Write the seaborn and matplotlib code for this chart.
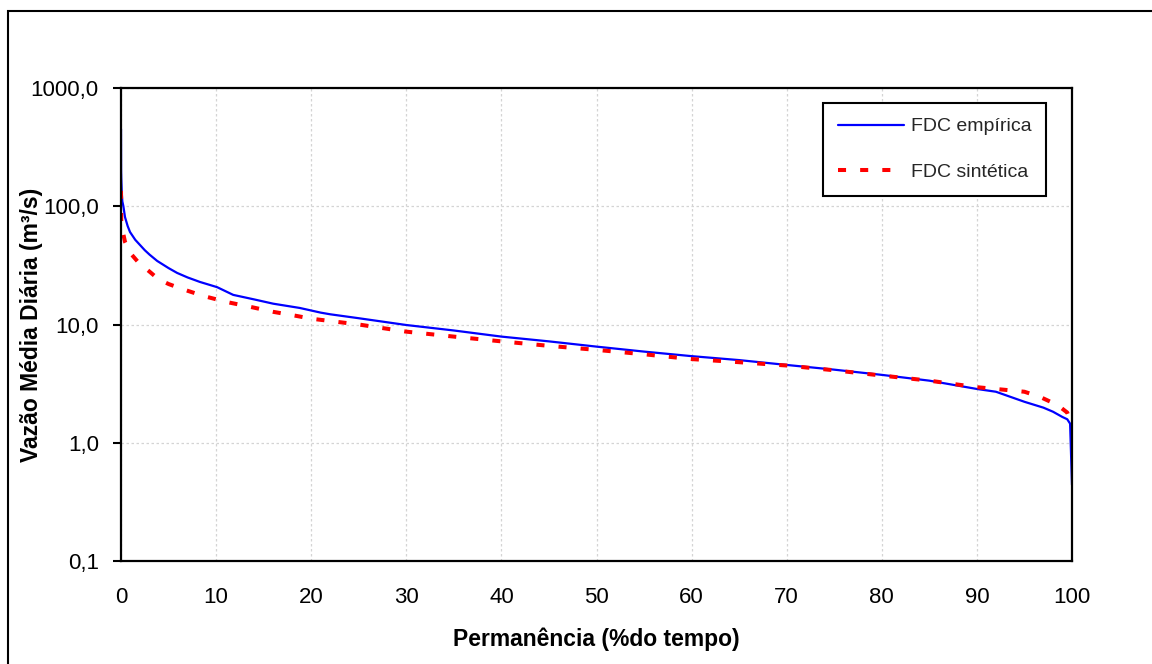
import matplotlib
matplotlib.use("Agg")
import matplotlib.pyplot as plt
from matplotlib.patches import Rectangle
import seaborn as sns
import pandas as pd

# ---- data ----
emp_x = [0, 0.01, 0.03, 0.08, 0.14, 0.25, 0.42, 0.7, 0.95, 1.5, 2.0, 2.5, 3.0, 3.8, 5.0,
         5.9, 7.0, 8.3, 10.1, 11.8, 14, 16, 18.8, 21, 22, 25, 30, 35, 40, 45, 50,
         55, 60, 65, 70, 75, 80, 85, 90, 92, 95, 97, 98, 99, 99.5, 99.8, 100]
emp_y = [450, 200, 170, 130, 110, 100, 81, 68, 60.5, 52, 47, 42.5, 39, 34.5, 30,
         27.3, 25, 22.9, 20.7, 17.8, 16.3, 15.0, 13.8, 12.6, 12.2, 11.3, 9.9, 8.9, 7.9, 7.2, 6.5,
         5.9, 5.4, 5.0, 4.55, 4.15, 3.75, 3.35, 2.85, 2.7, 2.22, 1.98, 1.83, 1.65, 1.58, 1.45, 0.44]

syn_x = [0, 0.03, 0.42, 1.0, 1.9, 3.0, 3.9, 5.0, 6.4, 8.7, 11.1, 13.6, 16, 18.5, 20,
         25, 30, 35, 40, 45, 50, 55, 60, 65, 70, 75, 80, 85, 90, 93, 95, 96.6,
         98.5, 99.5, 100]
syn_y = [135, 70, 50, 40, 33, 28, 24.3, 22, 20, 17.4, 15.5, 14.1, 12.8, 11.8, 11.2,
         10.0, 8.7, 7.9, 7.2, 6.6, 6.1, 5.6, 5.1, 4.8, 4.5, 4.1, 3.7, 3.35, 2.95, 2.8, 2.7, 2.45,
         2.08, 1.8, 1.41]

x_ticks = [0, 10, 20, 30, 40, 50, 60, 70, 80, 90, 100]
y_ticks = [0.1, 1, 10, 100, 1000]
y_tick_labels = ["0,1", "1,0", "10,0", "100,0", "1000,0"]
series_names = ["FDC empírica", "FDC sintética"]

sns.set_theme(style="white")
plt.rcParams["font.family"] = ["Liberation Sans", "DejaVu Sans"]

fig = plt.figure(figsize=(11.52, 6.64), dpi=100)
ax = fig.add_axes([121 / 1152, 1 - 561 / 664, 951 / 1152, 473 / 664])

df_emp = pd.DataFrame({"x": emp_x, "y": emp_y})
df_syn = pd.DataFrame({"x": syn_x, "y": syn_y})

sns.lineplot(data=df_emp, x="x", y="y", ax=ax, color="#0000FF", linewidth=1.6,
             estimator=None, sort=False, label=series_names[0])
sns.lineplot(data=df_syn, x="x", y="y", ax=ax, color="#FF0000", linewidth=2.9,
             estimator=None, sort=False, label=series_names[1])
ax.lines[1].set_dashes((2, 3.5))
ax.lines[1].set_dash_capstyle("butt")

ax.set_yscale("log")
ax.set_xlim(0, 100)
ax.set_ylim(0.1, 1000)
ax.set_xticks(x_ticks)
ax.set_xticklabels([str(v) for v in x_ticks])
ax.set_yticks(y_ticks)
ax.set_yticklabels(y_tick_labels)
ax.minorticks_off()

ax.grid(True, which="major", color="#d4d4d4", linestyle=(0, (2, 2)), linewidth=0.9)
ax.set_axisbelow(True)

for s in ax.spines.values():
    s.set_color("black")
    s.set_linewidth(1.6)

ax.tick_params(axis="y", which="major", direction="out", length=6, width=1.5,
               color="black", left=True, pad=10, labelsize=16, labelcolor="black")
ax.tick_params(axis="x", which="major", length=0, pad=19, labelsize=16, labelcolor="black")

ax.set_xlabel("Permanência (%do tempo)", fontsize=16.5, fontweight="bold", labelpad=14, color="black")
ax.set_ylabel("Vazão Média Diária (m³/s)", fontsize=16.5, fontweight="bold", color="black")
ax.yaxis.set_label_coords((43 - 121) / 951, 0.5)

leg = ax.legend(loc="upper right", bbox_to_anchor=(0.9727, 0.968), borderaxespad=0,
                fontsize=14, frameon=True, fancybox=False, shadow=False,
                handlelength=3.4, handletextpad=0.35, labelspacing=1.45,
                borderpad=0.75, framealpha=1)
leg.get_frame().set_edgecolor("black")
leg.get_frame().set_linewidth(1.5)

fig.patches.append(Rectangle((8 / 1152, -0.05), 1.1, 1 - 11 / 664 + 0.05,
                             transform=fig.transFigure, fill=False,
                             edgecolor="black", linewidth=1.5, clip_on=False))

fig.savefig("out.png", dpi=100, facecolor="white")
